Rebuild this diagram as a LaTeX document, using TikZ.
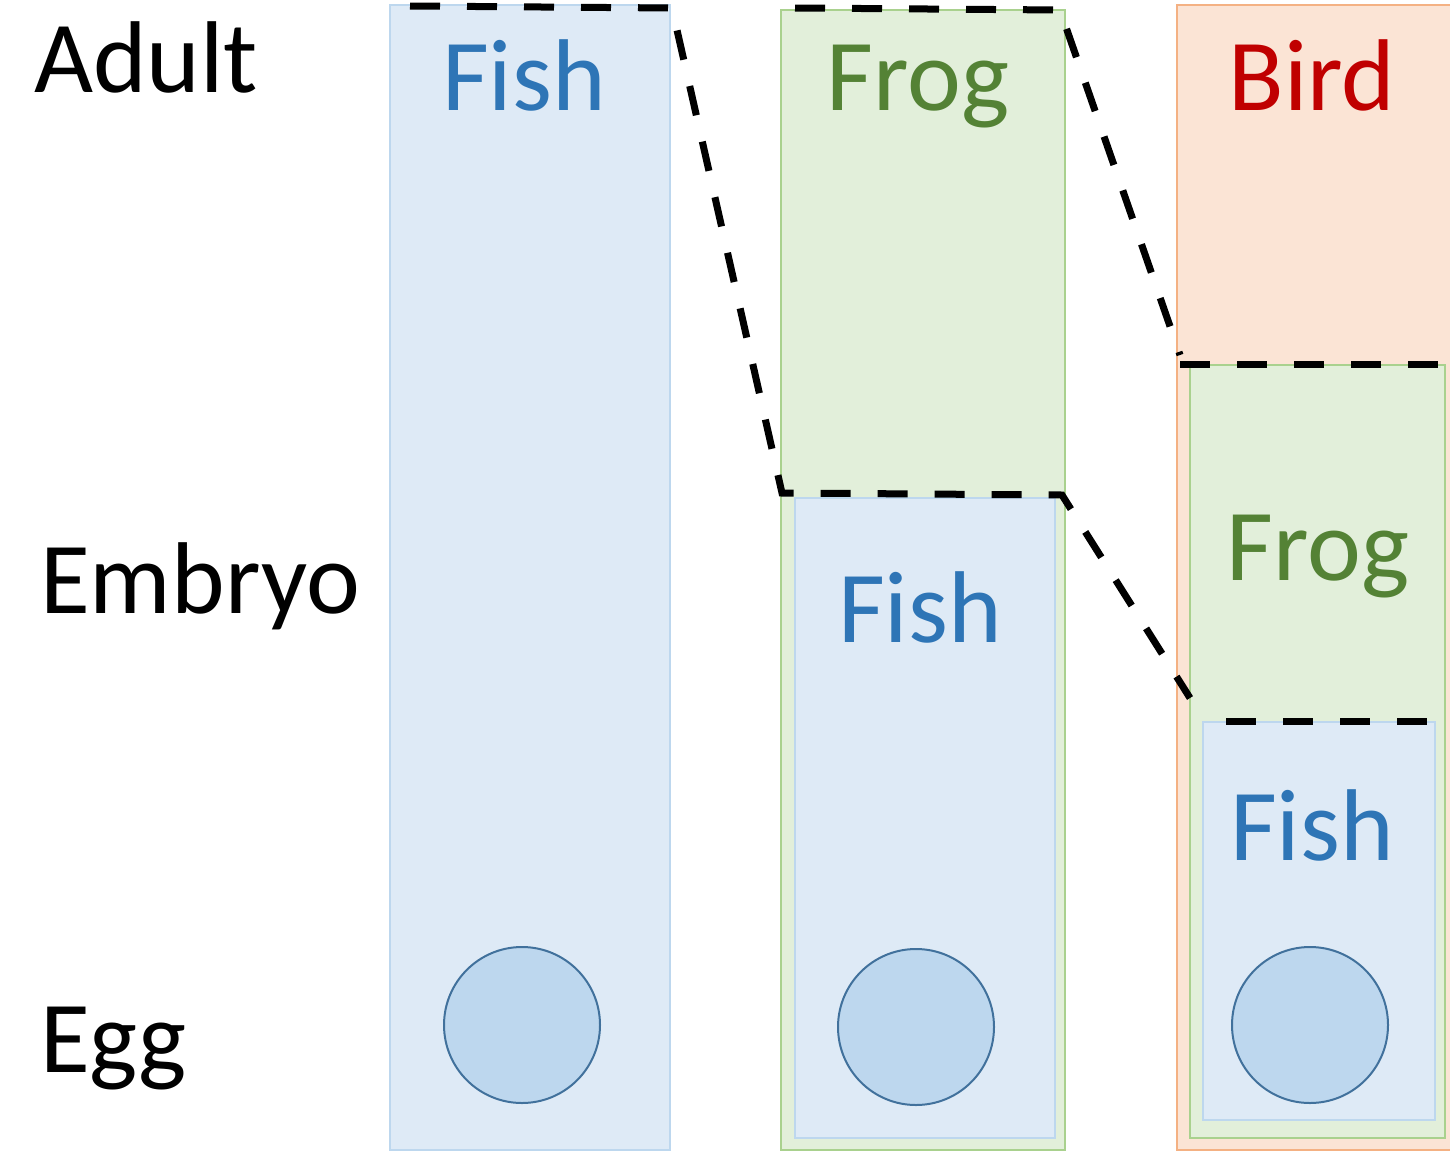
\documentclass[tikz,border=0pt]{standalone}
\usepackage{fontspec}
\setmainfont{Carlito}
\definecolor{bfill}{HTML}{DEEAF6}
\definecolor{bdraw}{HTML}{BDD7EE}
\definecolor{gfill}{HTML}{E2EFDA}
\definecolor{gdraw}{HTML}{A9D18E}
\definecolor{ofill}{HTML}{FBE4D5}
\definecolor{odraw}{HTML}{F4B183}
\definecolor{cfill}{HTML}{BDD7EE}
\definecolor{cdraw}{HTML}{41719C}
\definecolor{btext}{HTML}{2E75B6}
\definecolor{gtext}{HTML}{548235}
\definecolor{rtext}{HTML}{C00000}
\begin{document}
\begin{tikzpicture}[x=1pt,y=-1pt,
  big/.style={font=\fontsize{102}{110}\selectfont, inner sep=0pt},
  lbl/.style={big, anchor=base west},
  ttl/.style={big, anchor=base},
  box/.style={draw, line width=2.5pt},
  bluebox/.style={box, fill=bfill, draw=bdraw},
  greenbox/.style={box, fill=gfill, draw=gdraw},
  orangebox/.style={box, fill=ofill, draw=odraw},
  egg/.style={circle, draw=cdraw, fill=cfill, line width=2pt, minimum size=156pt, inner sep=0pt},
  boundary/.style={draw=black, line width=7pt, dash pattern=on 30pt off 27pt}
]
\useasboundingbox (0,0) rectangle (1450,1151);
% column 1
\path[bluebox] (390,5) rectangle (670,1150);
% column 2
\path[greenbox] (781,10) rectangle (1065,1150);
\path[bluebox] (795,498) rectangle (1055,1138);
% column 3
\path[orangebox] (1177,5) rectangle (1453,1150);
\path[greenbox] (1190,365) rectangle (1445,1138);
\path[bluebox] (1203,722) rectangle (1435,1120);

% eggs
\node[egg] (egg1) at (522,1025) {};
\node[egg] (egg2) at (916,1027) {};
\node[egg] (egg3) at (1310,1025) {};

% row labels
\node[lbl] (adult) at (34,92) {Adult};
\node[lbl] (embryo) at (40,613) {Embryo};
\node[lbl] (eggl) at (40,1072) {Egg};

% column titles
\node[ttl, text=btext] (fish1) at (524,110) {Fish};
\node[ttl, text=gtext] (frog2) at (918,110) {Frog};
\node[ttl, text=rtext] (bird3) at (1312,110) {Bird};
\node[ttl, text=btext] (fish2) at (920,642) {Fish};
\node[ttl, text=gtext] (frog3) at (1318,580) {Frog};
\node[ttl, text=btext] (fish3) at (1312,860) {Fish};

% dashed boundaries
\coordinate (a1) at (410,6);
\coordinate (a2) at (672,8);
\coordinate (a3) at (782,493);
\coordinate (a4) at (1062,495);
\coordinate (a5) at (1190,698);
\draw[boundary] (a1) -- (a2) -- (a3) -- (a4) -- (a5);

\coordinate (b1) at (795,8);
\coordinate (b2) at (1060,10);
\coordinate (b3) at (1180,355);
\coordinate (b4) at (1180,364);
\coordinate (b5) at (1445,364);
\draw[boundary] (b1) -- (b2) -- (b3);
\draw[boundary] (b4) -- (b5);

\coordinate (d1) at (1226,721);
\coordinate (d2) at (1436,721);
\draw[boundary] (d1) -- (d2);
\end{tikzpicture}
\end{document}
